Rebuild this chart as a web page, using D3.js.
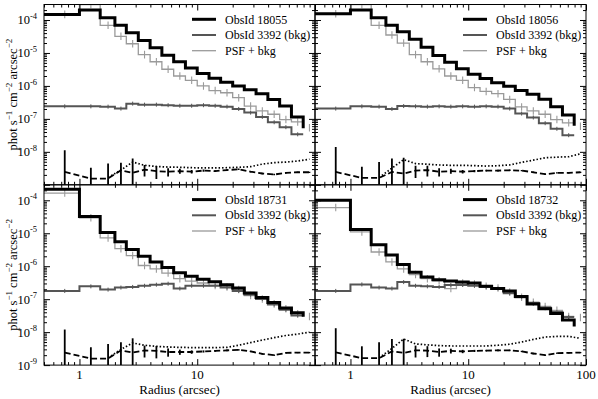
<!DOCTYPE html>
<html>
<head>
<meta charset="utf-8">
<script src="https://cdnjs.cloudflare.com/ajax/libs/d3/7.8.5/d3.min.js"></script>
<style>
	body { margin: 0; background: #fff; }
</style>
</head>
<body>
<div id="chart"></div>
<script>
'use strict';

// radial bins (arcsec)
var binEdges = [0.5, 1, 1.5, 2, 2.5, 3.16, 3.98, 5.01, 6.31, 7.94, 10, 12.6, 15.8, 20, 25.1, 31.6, 39.8, 50.1, 63.1, 79.4];
var binCenters = [0.75, 1.25, 1.75, 2.25, 2.83, 3.57, 4.5, 5.66, 7.12, 8.97, 11.3, 14.2, 17.9, 22.5, 28.4, 35.7, 45, 56.6, 71.3, 89.7];

// source profiles (phot s-1 cm-2 arcsec-2), last entry = drop at the outer edge
var src18055 = [1.48e-4, 2.0e-4, 1.17e-4, 6.9e-5, 4.1e-5, 2.4e-5, 1.45e-5, 8.5e-6, 5.4e-6, 3.5e-6, 2.4e-6, 1.7e-6, 1.29e-6, 1.0e-6, 7.6e-7, 5.8e-7, 3.9e-7, 2.45e-7, 1.15e-7, 5.2e-8];
var src18056 = [1.55e-4, 2.0e-4, 1.17e-4, 6.9e-5, 4.4e-5, 2.6e-5, 1.5e-5, 8.4e-6, 5.2e-6, 3.3e-6, 2.25e-6, 1.68e-6, 1.24e-6, 9.8e-7, 7.2e-7, 5.6e-7, 3.95e-7, 2.35e-7, 1.32e-7, 6.2e-8];
var src18731 = [2.15e-4, 3.2e-5, 1.05e-5, 5.5e-6, 3.2e-6, 2.0e-6, 1.35e-6, 9.1e-7, 6.3e-7, 5.0e-7, 4.0e-7, 3.4e-7, 2.75e-7, 2.2e-7, 1.55e-7, 1.12e-7, 7.9e-8, 5.4e-8, 3.9e-8, 2.95e-8];
var src18732 = [1.0e-4, 1.29e-5, 4.5e-6, 2.2e-6, 1.12e-6, 6.6e-7, 4.7e-7, 3.9e-7, 3.55e-7, 3.3e-7, 3.1e-7, 2.45e-7, 2.1e-7, 1.78e-7, 1.2e-7, 7.2e-8, 5.1e-8, 3.7e-8, 2.35e-8, 1.48e-8];

// background ObsId 3392
var bkg18055 = [2.4e-7, 2.4e-7, 2.35e-7, 2.05e-7, 2.9e-7, 2.7e-7, 2.7e-7, 2.6e-7, 2.5e-7, 2.5e-7, 2.6e-7, 2.5e-7, 2.35e-7, 2.0e-7, 1.55e-7, 1.15e-7, 7.9e-8, 5.6e-8, 3.4e-8];
var bkg18056 = [2.05e-7, 2.4e-7, 2.35e-7, 2.0e-7, 2.45e-7, 2.4e-7, 2.35e-7, 2.4e-7, 2.35e-7, 2.4e-7, 2.35e-7, 2.4e-7, 2.35e-7, 2.05e-7, 1.45e-7, 1.1e-7, 7.4e-8, 5.0e-8, 3.2e-8];
var bkg18731 = [1.78e-7, 2.45e-7, 1.95e-7, 2.25e-7, 2.35e-7, 2.55e-7, 2.75e-7, 2.95e-7, 2.1e-7, 2.55e-7, 2.55e-7, 2.55e-7, 2.25e-7, 1.78e-7, 1.38e-7, 1.02e-7, 6.9e-8, 4.8e-8, 3.2e-8];
var bkg18732 = [1.78e-7, 2.8e-7, 2.25e-7, 2.1e-7, 3.3e-7, 2.55e-7, 2.45e-7, 2.35e-7, 2.7e-7, 2.7e-7, 2.55e-7, 2.35e-7, 2.1e-7, 1.5e-7, 1.15e-7, 7.6e-8, 5.5e-8, 4.1e-8, 2.9e-8];

// PSF + bkg model, one value per bin centre
var psf18055 = [1.48e-4, 2.95e-4, 6.9e-5, 3.2e-5, 1.9e-5, 8.9e-6, 5.4e-6, 3.2e-6, 2.0e-6, 1.48e-6, 1.0e-6, 7.2e-7, 6.2e-7, 4.4e-7, 2.45e-7, 1.74e-7, 1.38e-7, 9.5e-8, 8.1e-8, 5.4e-8];
var psf18056 = [1.55e-4, 2.95e-4, 6.9e-5, 3.5e-5, 2.0e-5, 8.9e-6, 5.4e-6, 3.3e-6, 2.0e-6, 1.48e-6, 8.9e-7, 6.8e-7, 5.8e-7, 3.9e-7, 2.3e-7, 1.74e-7, 1.38e-7, 9.5e-8, 7.6e-8, 6.0e-8];
var psf18731 = [1.66e-4, 2.95e-5, 7.2e-6, 3.4e-6, 2.1e-6, 1.05e-6, 8.3e-7, 6.2e-7, 4.2e-7, 3.55e-7, 3.1e-7, 2.6e-7, 2.35e-7, 1.95e-7, 1.29e-7, 1.02e-7, 7.2e-8, 5.1e-8, 3.6e-8, 3.0e-8];
var psf18732 = [6.0e-5, 1.1e-5, 2.7e-6, 1.35e-6, 8.3e-7, 5.6e-7, 4.2e-7, 3.6e-7, 2.1e-7, 3.1e-7, 2.9e-7, 2.45e-7, 2.2e-7, 1.66e-7, 1.15e-7, 8.1e-8, 6.0e-8, 4.6e-8, 3.0e-8, 2.8e-8];

// residual curves near the floor (dashed with errors, dotted)
var dash18055 = [2.45e-9, 1.55e-9, 1.55e-9, 2.75e-9, 2.3e-9, 2.9e-9, 2.6e-9, 2.5e-9, 2.6e-9, 2.5e-9, 2.7e-9, 2.6e-9, 2.8e-9, 2.95e-9, 2.5e-9, 2.2e-9, 2.05e-9, 2.3e-9, 2.4e-9, 2.4e-9];
var dash18056 = [2.45e-9, 1.62e-9, 1.62e-9, 2.45e-9, 2.2e-9, 2.7e-9, 2.8e-9, 2.5e-9, 2.6e-9, 2.5e-9, 2.6e-9, 2.7e-9, 2.7e-9, 2.75e-9, 2.7e-9, 2.4e-9, 2.1e-9, 2.3e-9, 2.3e-9, 2.4e-9];
var dash18731 = [2.4e-9, 1.58e-9, 1.58e-9, 2.8e-9, 2.4e-9, 2.8e-9, 2.7e-9, 2.5e-9, 2.5e-9, 2.5e-9, 2.6e-9, 2.7e-9, 2.8e-9, 2.9e-9, 2.6e-9, 2.2e-9, 2.0e-9, 2.35e-9, 2.4e-9, 2.4e-9];
var dash18732 = [2.45e-9, 1.62e-9, 1.62e-9, 2.6e-9, 2.35e-9, 2.8e-9, 2.75e-9, 2.5e-9, 2.7e-9, 2.6e-9, 2.7e-9, 2.75e-9, 2.8e-9, 2.8e-9, 2.6e-9, 2.25e-9, 2.0e-9, 2.3e-9, 2.35e-9, 2.4e-9];

var dashErr18055 = [8.8e-9, 1.75e-9, 2.85e-9, 1.95e-9, 4.0e-9, 1.1e-9, 1.1e-9, 0.7e-9, 0.45e-9, 0.3e-9, 0.2e-9, 0.15e-9, 0.15e-9, 0.15e-9, 0.12e-9, 0.12e-9, 0.1e-9, 0.1e-9, 0.1e-9, 0.1e-9];
var dashErr18056 = [1.16e-8, 1.9e-9, 3.3e-9, 3.85e-9, 4.4e-9, 1.1e-9, 1.0e-9, 0.7e-9, 0.45e-9, 0.3e-9, 0.2e-9, 0.15e-9, 0.15e-9, 0.15e-9, 0.12e-9, 0.12e-9, 0.1e-9, 0.1e-9, 0.1e-9, 0.1e-9];
var dashErr18731 = [9.6e-9, 1.9e-9, 2.8e-9, 2.1e-9, 4.1e-9, 1.1e-9, 1.1e-9, 0.7e-9, 0.45e-9, 0.3e-9, 0.2e-9, 0.15e-9, 0.15e-9, 0.15e-9, 0.12e-9, 0.12e-9, 0.1e-9, 0.1e-9, 0.1e-9, 0.1e-9];
var dashErr18732 = [1.07e-8, 2.1e-9, 3.3e-9, 3.6e-9, 3.95e-9, 1.1e-9, 1.0e-9, 0.7e-9, 0.45e-9, 0.3e-9, 0.2e-9, 0.15e-9, 0.15e-9, 0.15e-9, 0.12e-9, 0.12e-9, 0.1e-9, 0.1e-9, 0.1e-9, 0.1e-9];

var dot18055 = [null, null, 1.66e-9, 2.8e-9, 4.9e-9, 3.9e-9, 3.6e-9, 3.45e-9, 3.4e-9, 3.3e-9, 3.25e-9, 3.25e-9, 3.3e-9, 3.4e-9, 3.55e-9, 4.25e-9, 4.7e-9, 4.9e-9, 5.25e-9, 6.0e-9];
var dot18056 = [null, null, 1.66e-9, 3.2e-9, 5.8e-9, 4.4e-9, 4.2e-9, 4.0e-9, 3.9e-9, 3.9e-9, 3.8e-9, 3.7e-9, 3.8e-9, 4.0e-9, 4.8e-9, 5.6e-9, 6.6e-9, 6.9e-9, 7.1e-9, 8.7e-9];
var dot18731 = [null, null, 1.66e-9, 3.0e-9, 4.7e-9, 4.0e-9, 3.7e-9, 3.55e-9, 3.45e-9, 3.4e-9, 3.4e-9, 3.4e-9, 3.45e-9, 4.0e-9, 4.8e-9, 5.75e-9, 6.8e-9, 7.9e-9, 8.7e-9, 1.0e-8];
var dot18732 = [null, null, 1.66e-9, 3.2e-9, 6.2e-9, 4.4e-9, 4.1e-9, 3.9e-9, 3.8e-9, 3.8e-9, 3.8e-9, 3.8e-9, 4.0e-9, 4.3e-9, 5.0e-9, 6.0e-9, 7.1e-9, 7.4e-9, 7.4e-9, 6.5e-9];

var xTickLabels = [1, 10, 100];
var yTickExps = [-4, -5, -6, -7, -8, -9];
var legendBkg = 'ObsId 3392 (bkg)';
var legendPsf = 'PSF + bkg';

var panels = [
	{obsId: '18055', src: src18055, bkg: bkg18055, psf: psf18055, dash: dash18055, dashErr: dashErr18055, dot: dot18055, col: 0, row: 0},
	{obsId: '18056', src: src18056, bkg: bkg18056, psf: psf18056, dash: dash18056, dashErr: dashErr18056, dot: dot18056, col: 1, row: 0},
	{obsId: '18731', src: src18731, bkg: bkg18731, psf: psf18731, dash: dash18731, dashErr: dashErr18731, dot: dot18731, col: 0, row: 1},
	{obsId: '18732', src: src18732, bkg: bkg18732, psf: psf18732, dash: dash18732, dashErr: dashErr18732, dot: dot18732, col: 1, row: 1}
];

var FONT = '"Liberation Serif", "DejaVu Serif", serif';
var width = 598;
var height = 399;
var margin = {top: 4.5, left: 44};
var panelW = 271;
var panelH = 180.3;

var x = d3.scaleLog().domain([0.5, 100]).range([0, panelW]);
var y = d3.scaleLog().domain([1e-9, Math.pow(10, -3.53)]).range([panelH, 0]);

var svg = d3.select('#chart').append('svg')
	.attr('width', width)
	.attr('height', height)
	.style('font-family', FONT);

var stepLine = d3.line()
	.x(function(d){ return x(d[0]); })
	.y(function(d){ return y(d[1]); })
	.curve(d3.curveStepAfter);

var smoothLine = d3.line()
	.defined(function(d){ return d[1] !== null; })
	.x(function(d){ return x(d[0]); })
	.y(function(d){ return y(d[1]); });

function stepPoints(values, withEnd){
	var n = binEdges.length - 1;
	var pts = [];
	for (var i = 0; i < n; i++) pts.push([binEdges[i], values[i]]);
	pts.push([binEdges[n], values[n - 1]]);
	if (withEnd) pts.push([binEdges[n], values[n]]);
	return pts;
}

function addText(sel){
	return sel.append('text').attr('font-family', FONT).attr('fill', '#000');
}

function drawPanel(p, idx){
	var g = svg.append('g')
		.attr('transform', 'translate(' + (margin.left + p.col * panelW) + ',' + (margin.top + p.row * panelH) + ')');

	var clipId = 'clip' + idx;
	g.append('clipPath').attr('id', clipId)
		.append('rect').attr('width', panelW).attr('height', panelH);

	var plot = g.append('g').attr('clip-path', 'url(#' + clipId + ')');

	// residuals
	plot.append('path')
		.attr('fill', 'none').attr('stroke', '#000').attr('stroke-width', 1.8)
		.attr('stroke-dasharray', '6,3')
		.attr('d', smoothLine(binCenters.map(function(c, i){ return [c, p.dash[i]]; })));

	plot.append('path')
		.attr('fill', 'none').attr('stroke', '#000').attr('stroke-width', 1.7)
		.attr('stroke-dasharray', '1.5,2')
		.attr('d', smoothLine(binCenters.map(function(c, i){ return [c, p.dot[i]]; })));

	plot.selectAll('.reserr').data(binCenters).enter().append('line')
		.attr('stroke', '#000').attr('stroke-width', 1.8)
		.attr('x1', function(c){ return x(c); })
		.attr('x2', function(c){ return x(c); })
		.attr('y1', function(c, i){ return y(p.dash[i] + p.dashErr[i]); })
		.attr('y2', function(c, i){ return y(Math.max(p.dash[i] - p.dashErr[i], 1e-10)); });

	// PSF + bkg
	plot.append('path')
		.attr('fill', 'none').attr('stroke', '#9a9a9a').attr('stroke-width', 1.3)
		.attr('d', stepLine(stepPoints(p.psf, false)));

	plot.selectAll('.psferr').data(binCenters).enter().append('line')
		.attr('stroke', '#9a9a9a').attr('stroke-width', 1.1)
		.attr('x1', function(c){ return x(c); })
		.attr('x2', function(c){ return x(c); })
		.attr('y1', function(c, i){ return y(p.psf[i] * 1.3); })
		.attr('y2', function(c, i){ return y(p.psf[i] / 1.3); });

	// background
	plot.append('path')
		.attr('fill', 'none').attr('stroke', '#555').attr('stroke-width', 2)
		.attr('d', stepLine(stepPoints(p.bkg, false)));

	plot.selectAll('.bkgerr').data(binCenters.slice(0, p.bkg.length)).enter().append('line')
		.attr('stroke', '#555').attr('stroke-width', 1)
		.attr('x1', function(c){ return x(c); })
		.attr('x2', function(c){ return x(c); })
		.attr('y1', function(c, i){ return y(p.bkg[i] * 1.15); })
		.attr('y2', function(c, i){ return y(p.bkg[i] / 1.15); });

	// source
	plot.append('path')
		.attr('fill', 'none').attr('stroke', '#000').attr('stroke-width', 3)
		.attr('d', stepLine(stepPoints(p.src, true)));

	// ticks on all four sides, pointing in
	var xMajor = [1, 10, 100];
	var xMinor = x.ticks().filter(function(v){ return xMajor.indexOf(v) < 0; });
	var yMajor = y.ticks().filter(function(v){ return Math.abs(Math.log10(v) - Math.round(Math.log10(v))) < 1e-6; });
	var yMinor = y.ticks().filter(function(v){ return yMajor.indexOf(v) < 0; });

	function tickAxis(axisFn, scale, values, size, transform){
		g.append('g')
			.attr('transform', transform)
			.call(axisFn(scale).tickValues(values).tickSize(-size).tickFormat(''))
			.call(function(s){ s.select('.domain').remove(); s.selectAll('line').attr('stroke', '#000'); });
	}
	tickAxis(d3.axisBottom, x, xMajor, 6, 'translate(0,' + panelH + ')');
	tickAxis(d3.axisBottom, x, xMinor, 3, 'translate(0,' + panelH + ')');
	tickAxis(d3.axisTop, x, xMajor, 6, 'translate(0,0)');
	tickAxis(d3.axisTop, x, xMinor, 3, 'translate(0,0)');
	tickAxis(d3.axisLeft, y, yMajor, 6, 'translate(0,0)');
	tickAxis(d3.axisLeft, y, yMinor, 3, 'translate(0,0)');
	tickAxis(d3.axisRight, y, yMajor, 6, 'translate(' + panelW + ',0)');
	tickAxis(d3.axisRight, y, yMinor, 3, 'translate(' + panelW + ',0)');

	g.append('rect')
		.attr('width', panelW).attr('height', panelH)
		.attr('fill', 'none').attr('stroke', '#000').attr('stroke-width', 1);

	// tick labels
	if (p.col === 0){
		var exps = yTickExps.filter(function(e){ return p.row === 1 || e > -9; });
		exps.forEach(function(e){
			var t = addText(g)
				.attr('x', -7).attr('y', y(Math.pow(10, e)) + 4.5)
				.attr('text-anchor', 'end').attr('font-size', 12.5);
			t.append('tspan').text('10');
			t.append('tspan').attr('dy', -5.5).attr('font-size', 8.5).text('-' + (-e));
		});
	}
	if (p.row === 1){
		xTickLabels.filter(function(v){ return p.col === 1 || v < 100; }).forEach(function(v){
			addText(g)
				.attr('x', x(v)).attr('y', panelH + 14)
				.attr('text-anchor', 'middle').attr('font-size', 13)
				.text(v);
		});
		addText(g)
			.attr('x', panelW / 2).attr('y', panelH + 28.5)
			.attr('text-anchor', 'middle').attr('font-size', 13)
			.text('Radius (arcsec)');
	}
	if (p.col === 0){
		var lab = addText(g)
			.attr('transform', 'translate(-27,' + (panelH / 2) + ') rotate(-90)')
			.attr('text-anchor', 'middle').attr('font-size', 12.5);
		lab.append('tspan').text('phot s');
		lab.append('tspan').attr('dy', -5).attr('font-size', 9).text('\u22121');
		lab.append('tspan').attr('dy', 5).text(' cm');
		lab.append('tspan').attr('dy', -5).attr('font-size', 9).text('\u22122');
		lab.append('tspan').attr('dy', 5).text(' arcsec');
		lab.append('tspan').attr('dy', -5).attr('font-size', 9).text('\u22122');
	}

	// legend
	var legend = [
		{label: 'ObsId ' + p.obsId, color: '#000', w: 3},
		{label: legendBkg, color: '#555', w: 2},
		{label: legendPsf, color: '#9a9a9a', w: 1.3}
	];
	var lg = g.append('g').attr('transform', 'translate(' + (panelW - 123) + ',0)');
	legend.forEach(function(d, i){
		var ly = 14.8 + i * 15.7;
		lg.append('line')
			.attr('x1', 0).attr('x2', 24).attr('y1', ly).attr('y2', ly)
			.attr('stroke', d.color).attr('stroke-width', d.w);
		addText(lg)
			.attr('x', 33).attr('y', ly + 4.2)
			.attr('font-size', 12)
			.text(d.label);
	});
}

panels.forEach(drawPanel);
</script>
</body>
</html>
